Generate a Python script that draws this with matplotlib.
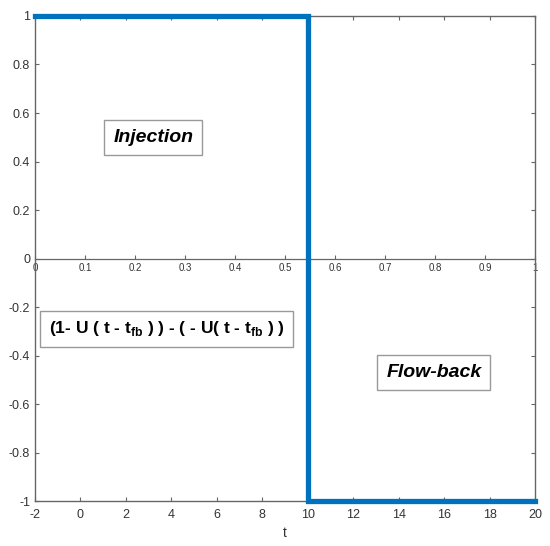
import matplotlib
matplotlib.use("Agg")
import matplotlib.pyplot as plt

plt.rcParams["font.family"] = ["Liberation Sans", "DejaVu Sans"]
plt.rcParams["axes.unicode_minus"] = False
plt.rcParams["mathtext.fontset"] = "custom"
plt.rcParams["mathtext.rm"] = "Liberation Sans:bold"
plt.rcParams["mathtext.bf"] = "Liberation Sans:bold"

# step data: U-switch at t_fb = 10
t_vals = [-2, 10, 10, 20]
y_vals = [1, 1, -1, -1]

x_ticks = [-2, 0, 2, 4, 6, 8, 10, 12, 14, 16, 18, 20]
y_ticks = [-1, -0.8, -0.6, -0.4, -0.2, 0, 0.2, 0.4, 0.6, 0.8, 1]
y_labels = ["-1", "-0.8", "-0.6", "-0.4", "-0.2", "0", "0.2", "0.4", "0.6", "0.8", "1"]
mid_ticks = [0, 0.1, 0.2, 0.3, 0.4, 0.5, 0.6, 0.7, 0.8, 0.9, 1]
mid_labels = ["0", "0.1", "0.2", "0.3", "0.4", "0.5", "0.6", "0.7", "0.8", "0.9", "1"]

spine_col = "#666666"
text_col = "#333333"

fig = plt.figure(figsize=(5.5, 5.46), dpi=100)
ax = fig.add_axes([0.0636, 0.0824, 0.9091, 0.8883])

ax.plot(t_vals, y_vals, color="#0072BD", linewidth=3.8, solid_joinstyle="miter",
        clip_on=False, zorder=5)

ax.set_xlim(-2, 20)
ax.set_ylim(-1, 1)
ax.set_xticks(x_ticks)
ax.set_yticks(y_ticks)
ax.set_yticklabels(y_labels)
ax.tick_params(direction="in", length=3, width=0.8, colors=spine_col,
               labelcolor=text_col, labelsize=9, top=True, right=True)
ax.tick_params(axis="x", pad=6)
for s in ax.spines.values():
    s.set_color(spine_col)
    s.set_linewidth(1.0)
ax.set_xlabel("t", fontsize=10, color=text_col, labelpad=3)

# second x axis drawn through y = 0
sec = ax.secondary_xaxis(0.5, functions=(lambda x: (x + 2) / 22.0,
                                         lambda u: u * 22.0 - 2))
sec.xaxis.set_ticks_position("bottom")
sec.set_xticks(mid_ticks)
sec.set_xticklabels(mid_labels)
sec.tick_params(direction="in", length=3, width=0.8, colors=spine_col,
                labelcolor=text_col, labelsize=7, pad=3)
for s in sec.spines.values():
    s.set_color(spine_col)
    s.set_linewidth(0.9)

box = dict(boxstyle="square,pad=0.45", facecolor="white", edgecolor="#999999",
           linewidth=1.0)
ax.text(3.2, 0.5, "Injection", fontsize=14, fontweight="bold", fontstyle="italic",
        ha="center", va="center", bbox=box, zorder=6)
ax.text(15.55, -0.47, "Flow-back", fontsize=14, fontweight="bold", fontstyle="italic",
        ha="center", va="center", bbox=box, zorder=6)
ax.text(3.8, -0.29, r"(1- U ( t - t$_{\mathbf{fb}}$ ) ) - ( - U( t - t$_{\mathbf{fb}}$ ) )",
        fontsize=12.5, fontweight="bold", ha="center", va="center",
        bbox=dict(boxstyle="square,pad=0.5", facecolor="white", edgecolor="#999999",
                  linewidth=1.0), zorder=6)

fig.savefig("out.png", dpi=100)
